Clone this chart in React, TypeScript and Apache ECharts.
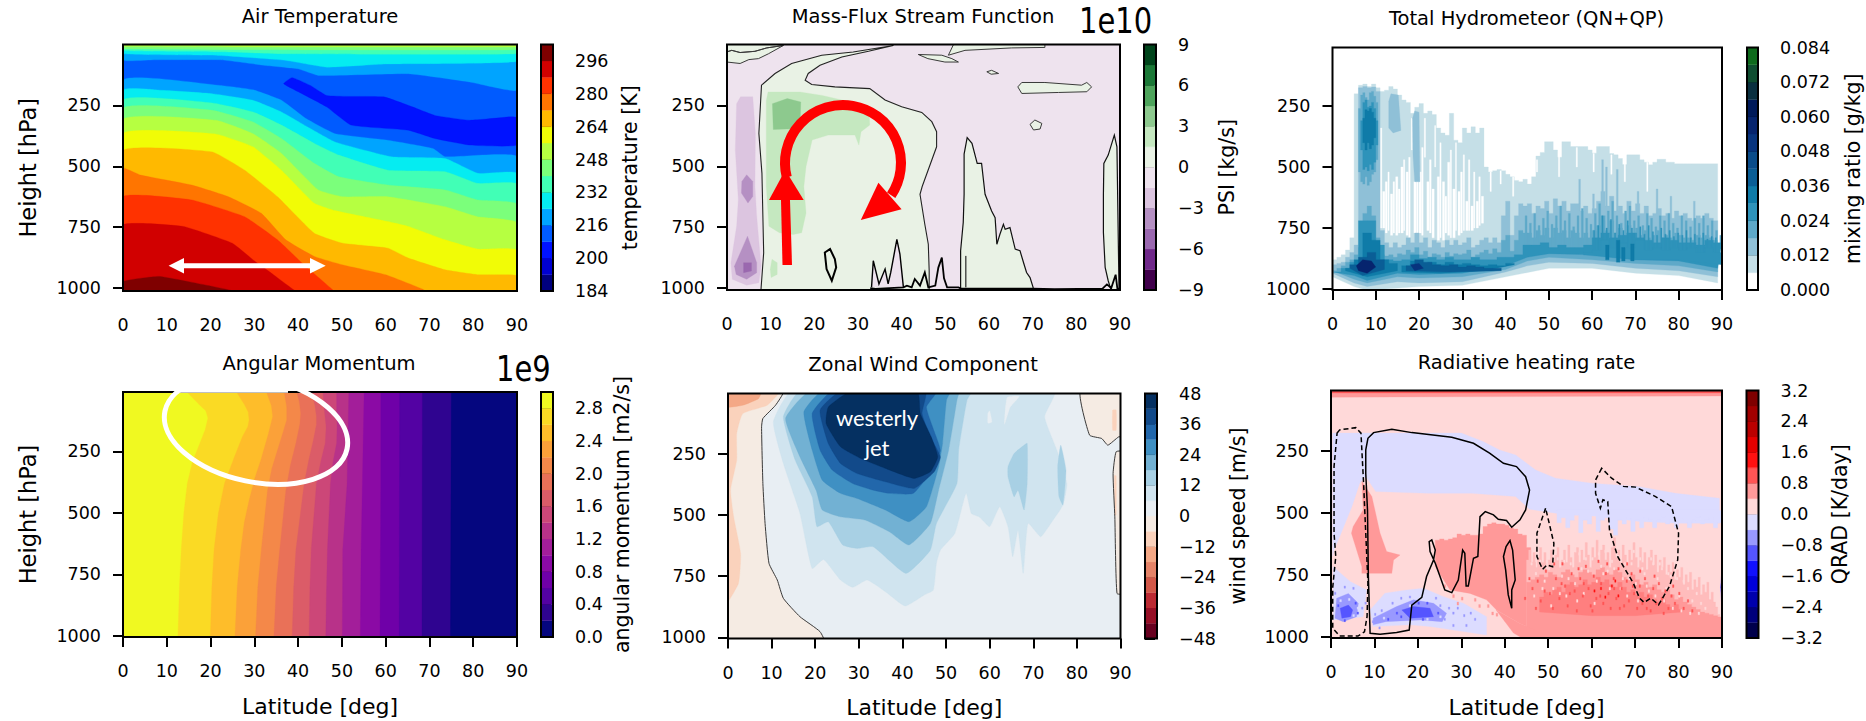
import React, { useEffect, useRef } from "react";
import * as echarts from "echarts";

type Pt = [number, number];
type Shape = { pts: Pt[]; fill?: string; stroke?: string; width?: number; dash?: number[]; closed?: boolean };

const FONT = "DejaVu Sans";
const TICK_P = [250, 500, 750, 1000];

// ---------- colour levels ----------
const tempLevels = [184,192,200,208,216,224,232,240,248,256,264,272,280,288,296,304];
const tempTicks = [184,200,216,232,248,264,280,296];
const jetColors = ["#00007f","#0000d2","#0012ff","#005bff","#00a4ff","#05ecf1","#41ffb6","#7bff7b","#b6ff41","#f1fc06","#ffb900","#ff7500","#ff3200","#d10000","#7f0000"];
const psiLevels = [-9,-7.5,-6,-4.5,-3,-1.5,0,1.5,3,4.5,6,7.5,9];
const psiTicks = [-9,-6,-3,0,3,6,9];
const prgnColors = ["#40004b","#70298a","#9a68af","#b590c3","#dcc5e0","#eee3ee","#e9f2e5","#c5e8c0","#8dc98e","#4ea45c","#1b7837","#00441b"];
const hydroLevels = [0,.006,.012,.018,.024,.03,.036,.042,.048,.054,.06,.066,.072,.078,.084];
const hydroTicks = [0,.012,.024,.036,.048,.06,.072,.084];
const hydroColors = ["#ffffff","#c5dfe7","#8fc0d7","#5ea9c9","#2e93ba","#0f7ba8","#0a5e96","#0a4c8a","#08347e","#06246e","#001a5a","#0a3040","#0f4d30","#0e6a1c","#0a8010"];
const momLevels = [0,.2,.4,.6,.8,1,1.2,1.4,1.6,1.8,2,2.2,2.4,2.6,2.8,3];
const momTicks = [0,.4,.8,1.2,1.6,2,2.4,2.8];
const plasmaColors = ["#05067f","#2f0490","#5302a3","#6f00a8","#8b0aa5","#a31e9a","#b83289","#cc4778","#db5c68","#e97158","#f48849","#fba139","#febd2a","#fada24","#f0f921"];
const windLevels = [-48,-42,-36,-30,-24,-18,-12,-6,0,6,12,18,24,30,36,42,48];
const windTicks = [-48,-36,-24,-12,0,12,24,36,48];
const rdbuColors = ["#67001f","#960f26","#bb2a33","#d25849","#e58368","#f4a886","#fad2bc","#f5ebe3","#e8eef3","#d0e4ef","#a8d0e4","#72b1d3","#3f90c3","#2267ab","#124a8a","#053061"];
const qradLevels = [-3.2,-2.8,-2.4,-2,-1.6,-1.2,-.8,-.4,0,.4,.8,1.2,1.6,2,2.4,2.8,3.2];
const qradTicks = [-3.2,-2.4,-1.6,-.8,0,.8,1.6,2.4,3.2];
const seismicColors = ["#00004c","#00007c","#0000ac","#0000db","#1111ff","#5555ff","#9999ff","#dcdcff","#ffd9d9","#ff9999","#ff5555","#ff1111","#e60000","#bb0000","#a20000","#7f0000"];
const speckleLight = "#ffbcbc";
const speckleWarm = "#ff7f7f";

// ---------- air temperature contours: [latitude, hPa] ----------
const tLow4: Pt[] = [[0,147],[22.2,168],[29.7,186],[36.2,229],[41.8,304],[48.4,366],[60.5,393],[70.8,427],[73.6,461],[90,461]];
const tLow5: Pt[] = [[0,188],[9,188],[20.4,202],[29.7,229],[36.2,277],[42.8,345],[48.4,400],[61.4,461],[73.6,468],[81.1,529],[90,529]];
const tLow6: Pt[] = [[0,229],[20.4,240],[29.7,277],[36.2,331],[43.7,406],[49.3,454],[60.5,516],[73.6,522],[81,570],[90,573]];
const tLow7: Pt[] = [[0,263],[20.4,270],[29.7,318],[36.2,386],[43.7,488],[49.3,543],[60.5,577],[73.6,597],[81,638],[90,655]];
const tLow8: Pt[] = [[0,308],[21.3,311],[29.7,366],[36.2,447],[44.6,597],[50.2,625],[60.5,625],[73.6,666],[81,707],[90,731]];
const tLow9: Pt[] = [[0,366],[21.3,368],[29.7,420],[36.2,516],[43.7,652],[48.4,682],[60.5,727],[65.2,747],[73.6,802],[81,840],[90,843]];
const tLow10: Pt[] = [[0,436],[20.4,441],[27.8,516],[35.3,625],[43.7,775],[50.2,816],[60.5,836],[65.2,877],[73.6,925],[81,945],[90,949]];
const tLow11: Pt[] = [[0,509],[4,536],[15.7,577],[24.1,625],[31.6,693],[37.2,802],[43.7,870],[50,904],[60,945],[68.4,1004],[70.8,1030]];
const tLow12: Pt[] = [[0,625],[15.7,638],[27.8,707],[35.3,802],[40.9,897],[47.9,1007],[49.3,1030]];
const tLow13: Pt[] = [[0,741],[13.8,747],[25,816],[30.2,891],[33.4,932],[39,1007],[41.4,1030]];
const tLow14: Pt[] = [[0,973],[8.2,952],[18.5,986],[25,1011],[26,1030]];
const tUp4: Pt[] = [[0,65],[7.3,63],[22.2,63],[32.5,86],[40,100],[44.6,127],[65.2,120],[79.2,154],[90,188]];
const tUp5: Pt[] = [[0,38],[22,45],[37,65],[46.5,93],[60,80],[90,70]];
const tUp6: Pt[] = [[0,25],[22,30],[37,38],[90,38]];
const tUp7: Pt[] = [[0,18],[90,22]];
const tUp8: Pt[] = [[0,8],[90,10]];
const tCold: Pt[] = [[36.7,161],[38.6,136],[42.8,168],[46.5,209],[51.2,213],[59.6,215],[66.1,256],[71.2,291],[79.2,311],[88.5,297],[90,300],[90,413],[79.2,413],[71.2,386],[65.2,352],[52.1,331],[46.5,256],[40.9,202]];

// ---------- stream function contours ----------
const psiTopLeft: Pt[] = [[0,30],[1.1,24],[3,33],[6.4,28],[9.1,14],[12.9,4],[12.9,-5],[0,-5]];
const psiTopLeft2: Pt[] = [[0,72],[3,78],[5,62],[7.2,58],[9.5,38],[12.9,4],[9.1,14],[6.4,28],[3,33],[1.1,24],[0,30]];
const psiMain: Pt[] = [[38.1,4],[28.9,31],[21.7,44],[14.8,78],[11,119],[7.9,167],[7.3,365],[8,528],[8.4,855],[7.8,1002],[7.8,1040],[46.3,1040],[46.3,929],[46.1,820],[45.3,738],[44.2,615],[44.7,583],[48,420],[48,358],[46.9,317],[44.6,279],[40,256],[36.2,228],[32.7,181],[24.7,174],[19.4,164],[17.9,147],[18.6,119],[21.3,85],[26.3,51],[32.4,28],[38.1,4]];
const psiMountain: Pt[] = [[53.5,1040],[53.5,847],[54.1,731],[54.3,615],[54.3,450],[55,382],[56.1,406],[57.3,488],[58.3,488],[59.1,615],[60.6,684],[61.4,711],[61.8,820],[62.5,779],[63.3,738],[63.7,759],[64.8,752],[66,840],[67.1,847],[67.9,895],[68.6,936],[69.4,957],[70.1,997],[70.4,1040]];
const psiPolar: Pt[] = [[88.5,1040],[87.3,970],[86.6,915],[86.2,772],[86.2,615],[86.3,488],[87.3,454],[88.7,372],[89.3,420],[89.8,1040]];
const psiIsleA: Pt[] = [[43.8,41],[49.2,44],[51.5,58],[53,72],[49.9,72],[46,58]];
const psiIsleB: Pt[] = [[50.7,44],[54.5,24],[65.2,14],[72.8,12],[72.8,-5],[52,-5]];
const psiIsleC: Pt[] = [[59.5,112],[60.6,106],[62.2,119],[60.5,122]];
const psiIsleD: Pt[] = [[66.6,174],[67.5,156],[72.8,156],[81.2,167],[82.4,156],[83.5,174],[82.4,194],[75.9,197],[67.5,201]];
const psiIsleE: Pt[] = [[69.4,328],[70.5,310],[72.1,324],[71.7,347],[70.2,351]];
const psiSpike: Pt[] = [[33.1,997],[33.5,888],[34.8,983],[36.2,922],[36.9,983],[37.5,936],[38.9,800],[39.6,861],[40.4,997]];
const psiLens: Pt[] = [[22.4,854],[23.6,840],[24.7,881],[25,915],[24,970],[22.8,922]];
const psiFloor: Pt[] = [[32.8,1000],[34,1003],[40.4,997],[41.2,990],[42.3,997],[43,963],[44.2,990],[45.3,936],[46.1,997],[47.7,990],[48.4,916],[49.2,875],[49.7,960],[50.4,997],[53,997],[53.6,1002],[56,1002],[70,1002],[75,1004],[86,1002],[87,985],[88,1000],[89,945],[89.4,1002],[90,1002]];
const psiStub: Pt[] = [[54.7,868],[54.7,997]];
const psiPos1A: Pt[] = [[9,230],[9.4,195],[16.7,195],[21.8,209],[28.3,236],[32.6,297],[32.7,331],[30.7,358],[30.2,413],[29.3,372],[23.2,372],[19.5,392],[18.1,501],[17.6,583],[18.1,692],[17.1,773],[15.2,780],[12,773],[9.6,746],[9,583]];
const psiPos1B: Pt[] = [[10.3,882],[11.5,896],[11.5,944],[10.1,957],[9.9,923]];
const psiPos2: Pt[] = [[10.4,243],[13.8,222],[16.9,236],[16.7,345],[10.6,349]];
const psiNeg1: Pt[] = [[2.2,243],[3.1,215],[5.9,215],[6.5,365],[6.4,583],[6.8,705],[7.8,910],[7.3,978],[4.5,988],[1.2,964],[.9,896],[2.2,746],[2.6,637],[1.9,433]];
const psiNeg2A: Pt[] = [[3.4,562],[4.5,535],[5.9,562],[5.9,624],[4.8,651],[3.3,610]];
const psiNeg2B: Pt[] = [[1.7,910],[4.7,787],[6.8,896],[6.8,937],[4.5,964],[2.1,944]];
const psiNeg3: Pt[] = [[3.8,896],[5.6,896],[5.6,930],[3.8,937]];

// ---------- hydrometeor: upper edge of each band, one value per degree of latitude ----------
const hydroTopA = [880,870,860,840,790,200,165,160,170,160,175,190,185,170,180,205,225,235,280,255,240,280,270,285,340,360,370,280,390,400,340,360,335,360,340,500,520,515,510,515,530,540,555,560,550,570,540,455,440,396,396,430,460,396,396,416,416,416,416,430,443,416,416,416,445,450,465,490,450,450,450,470,480,491,480,468,468,480,480,487,487,487,487,487,487,487,487,487,487];
const hydroBotA: Pt[] = [[0,950],[5,990],[8,1005],[20,990],[30,985],[40,950],[50,915],[60,915],[70,935],[80,945],[89,975]];
const holeLat = [11,11.6,12.2,12.8,13.4,14,14.6,15.2,15.8,16.4,17,17.6,18.2,18.8,19.4,20,20.6,21.2,21.8,22.4,23,23.6,24.2,24.8,25.4,26,26.6,27.2,27.8,28.4,29,29.6,30.2,30.8,31.4,32,32.6,33.2,33.8,34.4];
const holeTop = [340,600,560,520,610,560,540,590,500,470,520,460,300,560,480,520,420,300,560,470,590,330,540,400,560,620,480,430,590,400,600,520,450,640,470,660,520,640,540,620];
const holeBot = [750,750,770,760,780,770,780,770,770,760,780,790,430,770,780,770,780,460,760,770,790,500,800,790,800,770,780,790,790,760,780,770,760,760,760,760,750,750,740,730];
const holeWidth = [.4,.5,.45,.3,.5,.35,.5,.4,.55,.3,.5,.35,.25,.5,.4,.55,.35,.3,.5,.4,.5,.25,.55,.3,.5,.4,.5,.3,.55,.25,.5,.4,.3,.5,.35,.55,.3,.5,.35,.5];
const slitLat = [36.4,38.7,41.6,47.1,52.2,56.3,60.2,64.3,67.4,72.6];
const slitTop = [520,515,540,470,440,420,445,450,480,480];
const slitBot = [600,570,620,520,540,500,520,530,560,600];
const hydroTopB = [900,895,890,870,850,820,175,170,175,172,190,760,810,830,810,830,820,790,810,770,810,790,830,800,810,830,800,820,800,820,810,790,830,820,800,790,810,790,810,700,640,780,700,650,660,650,690,660,670,640,690,630,660,640,680,650,650,680,660,690,670,640,600,660,620,680,660,690,640,680,650,690,660,700,690,670,700,690,710,680,700,690,710,720,700,710,690,710,720];
const hydroBotB: Pt[] = [[0,935],[5,975],[8,990],[15,970],[20,975],[30,970],[40,930],[45,905],[50,890],[60,895],[70,915],[80,925],[89,950]];
const hydroTowerB2: Pt[] = [[13,230],[13.5,200],[15.2,205],[15.8,350],[14,360],[13,340]];
const hydroTowerB3: Pt[] = [[18.5,300],[19,270],[20,275],[20.2,560],[19,560],[18.6,450]];
const streakBLat = [56.9,60.1,62.2,63.1,65.6,70.4,74.8,78,83.4];
const streakBTop = [550,610,470,500,510,600,590,620,640];
const hydroTopC = [925,915,905,890,880,860,830,690,660,700,790,860,865,860,870,855,860,840,850,830,860,845,870,855,860,870,850,865,855,860,855,840,870,860,850,840,855,835,850,800,780,845,800,760,770,770,790,760,780,750,790,750,770,760,790,760,770,790,770,790,760,740,700,760,720,770,750,780,740,770,750,780,760,790,780,760,790,780,790,770,780,790,790,800,780,790,780,790,800];
const hydroBotC: Pt[] = [[0,925],[5,960],[8,975],[15,950],[20,955],[30,950],[40,920],[45,885],[50,870],[60,880],[70,895],[80,905],[89,930]];
const streakCTop = [700,730,690,740,710,680,735,700,660,720,690,745,700,670,710,735,690,650,720,680,640,700,730,680,660,720,700,740,690,710,745,700,720,690,730,750,700,720,745,710,730,700,740,720,760,780];
const towerCTop = [260,205,195,215,225,195,190,210,235];
const towerCBot = [520,560,570,540,575,560,530,520,470];
const hydroTopD = [930,915,890,720,720,820,880,885,880,860,875,870,880,870,880,880,870,880,880,870,870,860,820,820,810,830,820,830,830,820,790,770,790,780,770,790,800,810,790,800,810,810,820,800,810];
const hydroBotD: Pt[] = [[0,930],[5,945],[8,965],[15,935],[20,940],[30,935],[40,905],[45,870],[50,855],[60,860],[70,880],[80,885],[89,915]];
const streakDTop = [760,740,700,750,715,770,735,760,720,750,770,745,775,740,765,780,750,775,760,785,770,780,760,790,775,790,770,795,785,790];
const towerDTop = [310,235,225,255,250,235,260,310];
const towerDBot = [430,510,500,515,490,510,480,410];
const hydroTopE1 = [915,880,770,800,880,895];
const hydroBotE1: Pt[] = [[3,925],[8,950],[15,925]];
const hydroTopE2 = [905,885,895,890,900,890,900,895,900,905,900,905,895];
const hydroBotE2: Pt[] = [[16,930],[25,935],[35,925],[42,900]];
const hydroTopE3 = [850,840,800,830,810,830,800,840,830,840,830,840,830,850,830,850];
const hydroBotE3: Pt[] = [[58,860],[70,880],[80,880],[90,900]];
const towerETop = [300,265,270,260,275,300];
const towerEBot = [400,430,400,425,410,380];
const hydroTopF1 = [900,870,850,880];
const hydroBotF1: Pt[] = [[4,915],[7,945],[12,920]];
const hydroTopF2 = [905,880,890,900,905,900,910,905,910,915,915];
const hydroBotF2: Pt[] = [[17,925],[27,930],[39,925]];
const hydroFLat = [63.1,65.6,66.8,68.9];
const hydroFTop = [820,800,830,815];
const hydroFBot = [880,890,885,885];
const hydroCoreA: Pt[] = [[5.5,905],[7,880],[9,885],[10,910],[8,935],[6,925]];
const hydroCoreB: Pt[] = [[18,900],[20,895],[21,915],[19,925]];

// ---------- angular momentum contours ----------
const momEdges: Pt[][] = [
  [[12.5,1030],[12.9,800],[13.3,650],[13.9,500],[14.7,380],[15.9,290],[17.5,220],[18.8,160],[19.4,115],[18.9,85],[17.5,62],[15.5,25],[13.8,-5]],
  [[19.9,1030],[20.3,800],[20.8,650],[21.8,500],[23.2,380],[25.5,270],[27.3,190],[28.5,150],[28.8,123],[28.6,90],[27.8,62],[26.5,25],[25.5,-5]],
  [[25.5,1030],[26.1,800],[26.9,650],[27.7,540],[28.8,450],[30.1,360],[31.5,285],[33.2,180],[34.2,109],[33.9,65],[32.5,-5]],
  [[30.2,1030],[30.8,800],[31.6,650],[33,410],[34,320],[35.3,245],[36.6,170],[37.4,123],[37.4,70],[36.7,-5]],
  [[34.4,1030],[35,800],[35.8,650],[37.2,410],[38.2,310],[39.5,217],[40.4,140],[40.6,96],[40.3,50],[39.5,-5]],
  [[38.6,1030],[39,800],[39.5,650],[41.4,380],[42.5,280],[43.5,204],[44.2,140],[44.2,109],[43.8,60],[42.8,-5]],
  [[42.5,1030],[42.7,800],[43,650],[44.2,380],[45.2,290],[46.2,217],[46.4,150],[46,82],[45.6,-5]],
  [[46.3,1030],[46.5,800],[46.7,650],[47.4,380],[48,290],[48.8,217],[48.9,150],[48.8,82],[48.8,-5]],
  [[50.1,1030],[50.2,650],[51.2,380],[51.6,-5]],
  [[54.2,1030],[54.4,650],[55.1,-5]],
  [[58.7,1030],[58.9,380],[58.9,-5]],
  [[63.1,1030],[63.2,-5]],
  [[68.3,1030],[68.4,-5]],
  [[74.8,1030],[75,-5]],
];

// ---------- zonal wind contours ----------
const uWest: Pt[] = [[12.7,-5],[10.9,52],[8,106],[7.7,140],[8,372],[8.5,535],[9.4,698],[11.3,766],[12.7,841],[16.5,916],[21.1,977],[22.3,1030],[-1,1030],[-1,-5]];
const uNorth: Pt[] = [[80.8,-5],[82.9,174],[85.7,188],[87.1,215],[89.6,181],[91,181],[91,-5]];
const uStrip: Pt[] = [[89,242],[88.3,331],[88.7,508],[89.2,821],[91,821],[91,242]];
const uStripIn: Pt[] = [[88.6,340],[89,340],[89,500],[88.7,500]];
const uDotN: Pt[] = [[88.2,72],[89,72],[89,154],[88.2,154]];
const uWestDeep: Pt[] = [[-1,-5],[7.6,-5],[7,25],[3.4,52],[-1,60]];
const uWestMid: Pt[] = [[-1,-5],[11.8,-5],[9,52],[3.4,86],[2,167],[2,276],[.6,399],[1.3,508],[2.9,657],[2.4,780],[-1,875]];
const uBand1: Pt[] = [[14.6,-5],[10.4,120],[12.7,290],[16.5,494],[19.3,719],[21.9,682],[25.8,766],[28.6,796],[31.9,766],[36.1,814],[40.6,872],[45,827],[47.1,807],[47.8,698],[48.7,644],[52,576],[54.6,412],[55.8,494],[57.6,508],[60,548],[62.3,467],[64.2,548],[65.3,671],[66.5,562],[67.7,739],[68.8,535],[71.7,589],[74,535],[76.8,460],[77.7,372],[75.4,235],[72.6,99],[74.9,-5]];
const uGapA: Pt[] = [[66.8,15],[64,20],[63.4,130],[64.7,60]];
const uGapB: Pt[] = [[60,75],[60.5,120],[59.6,125],[59.6,85]];
const uBand2: Pt[] = [[16.5,-5],[12.7,99],[15.4,276],[19.3,426],[20.4,548],[23,528],[26.3,623],[29.6,637],[33.3,630],[40.8,739],[46.4,644],[47.8,535],[52.5,372],[52.9,235],[54.8,31],[55.8,-5]];
const uBlobA: Pt[] = [[64.2,303],[65.6,249],[67.4,222],[68.6,208],[68.6,372],[67.9,480],[66.5,399],[65.6,426],[64.2,344]];
const uBlobB: Pt[] = [[76.3,215],[77.5,317],[76.8,460],[75.9,426],[75.6,303]];
const uBand3: Pt[] = [[18.8,-5],[13.2,106],[16.5,263],[20.2,399],[21.6,480],[25.8,508],[31.4,521],[37,569],[41.5,623],[46.4,535],[48.3,399],[50.6,235],[52.5,31],[52.9,-5]];
const uBand4: Pt[] = [[21.6,-5],[17.4,79],[19.3,235],[21.6,358],[25.8,412],[29.6,433],[36.1,480],[41.5,528],[45.5,467],[48.3,303],[49.2,208],[50.1,31],[50.9,-5]];
const uBand5: Pt[] = [[23.9,-5],[19.3,86],[21.1,235],[23.9,317],[28.6,372],[33.3,399],[37,412],[42.5,412],[47.3,303],[48.7,235],[46.9,140],[45.5,59],[47.8,-5]];
const uBand6: Pt[] = [[25.8,-5],[21.1,72],[23,208],[25.8,290],[29.6,331],[36.1,365],[42.7,392],[47.3,324],[48.7,263],[46.4,181],[44.5,86],[45.3,-5]];
const uBand7: Pt[] = [[28.2,-5],[23,59],[22.5,127],[25.8,222],[30.5,270],[36.1,310],[42.7,351],[46.4,324],[48.1,263],[46.6,181],[44.1,86],[43.4,-5]];

// ---------- radiative heating ----------
const qCool: Pt[] = [[.4,178],[6.6,178],[30,178],[35,212],[38.8,246],[42.5,266],[47.1,327],[51.7,360],[60,380],[71,394],[79.3,421],[89.4,441],[89.4,542],[80.2,542],[71,535],[61.8,515],[51.7,501],[45.7,485],[42.5,434],[32.4,421],[22.3,421],[10.3,414],[8,353],[6.6,380],[4.8,475],[2,596],[.7,650],[.4,676]];
const qCoolStreak = [540,520,560,530,510,580,530,545,510,575,530,520,565,590,530,545,520,575,530,560,520,530,560,530,515,545,530,560,525,540,560,530,515,545,530,520,560,540];
const qCoolLowA: Pt[] = [[.5,717],[4.4,777],[8.2,811],[7.4,919],[.5,932]];
const qCoolLowB: Pt[] = [[9,892],[12.4,824],[17.4,811],[21.3,804],[25.9,838],[30.5,865],[35.8,919],[35.8,993],[22.8,959],[18.2,952],[9.7,959]];
const qMidA: Pt[] = [[1.3,845],[4,825],[6.3,865],[5.9,919],[2.8,939],[.9,925]];
const qMidB: Pt[] = [[9.7,925],[15.1,878],[19,851],[23.6,865],[26.6,905],[25.6,939],[20.5,932],[12.6,939],[9.7,952]];
const qCoreA: Pt[] = [[2.1,885],[4,872],[5,892],[4.5,919],[2.5,925]];
const qCoreB: Pt[] = [[16.3,892],[19,878],[22.8,885],[23.6,919],[18.2,925]];
const qEdge: Pt[] = [[89.7,800],[90,720],[90,900]];
const qBlueLat = [7,7.8,.8,5,3,10,11.5,13,14,16,18,24,25,27,28,29,30.5,32,33,26,28,31,9.5,11];
const qBlueP = [880,860,820,800,795,905,890,905,860,840,835,840,870,880,900,880,910,900,925,925,950,950,935,960];
const qDeepLat = [1.5,5.5,6,3,15,16,20,22,24.5,21,13];
const qDeepP = [870,860,900,930,900,915,860,860,900,925,925];
const qPaleLat = [4,2,6,5,12,18,25,22];
const qPaleP = [845,850,880,910,920,870,915,925];
const qWarmWedge: Pt[] = [[7.1,373],[7.4,488],[5.1,555],[4.7,582],[7.1,717],[7.1,744],[14,744],[14.4,690],[15.9,670],[12.8,656],[11.3,582],[10.1,488],[9.4,434]];
const qWarmTop = [610,605,610,605,600,585,590,585,590,590,585,555,545,540,545,545,550,560,565,585,590,640,700];
const qWarmEdge: Pt[] = [[24,717],[27.4,811],[32,825],[35.8,851],[38.1,892],[43.5,946],[47,973]];
const qWarmFoot: Pt[] = [[38,892],[43.5,946],[47,973],[47,1030],[45,1030],[44,1005],[42,985]];
const qWarmDotLat = [28,30,33,36,38,40,42,44,34,37,26,29];
const qWarmDotP = [830,840,845,870,905,925,950,975,870,900,790,860];
const qLowTop = [690,650,700,660,720,680,640,700,660,730,690,650,710,670,640,720,690,650,700,630,680,720,660,640,700,650,690,620,670,720,640,680,610,700,650,630,690,660,720,640,600,680,650,700,630,670,710,650,690,620,680,720,640,700,660,730,680,650,710,670,740,690,720,680,750,710,740,700,770,730,760,720,790,750,780,740,810,770,800,760,830,790,820,780,850,820,860,880,910,950];
const qLowMid = [780,770,760,750,760,740,750,760,740,730,750,760,740,730,740,750,730,720,740,750,730,740,760,770,750,770,790,780,800,790,810,820,810,830,850,840,860,870,880,890,900,905,910,915,920];
const qHotZone = [840,820,830,810,800,820,790,780,800,790,770,790,780,760,780,770,790,800,780,800,820,810,830,820,840,830,850,860,850,870,880,870,890];
const qHotZoneEdge: Pt[] = [[48,900],[60,915],[70,915],[81,900]];
const qLowFloor: Pt[] = [[45,1030],[90,1030]];
const qHotLat = [46.2,47.4,48.1,49.3,50.2,50.9,51.6,52.4,53.1,53.7,54.3,55.2,55.9,56.4,57.2,57.8,58.5,59.1,59.6,60.3,60.9,61.4,62,62.5,63.1,63.7,64.2,64.9,65.5,66,66.7,67.3,67.9,68.4,69,69.6,70.3,70.9,71.5,72.1,72.8,73.4,74,74.7,75.3,76,76.8,77.5,78.2,79,80,81,82,83,47,49,51.2,52.9,54.8,56.8,58,60,61.8,63.4,65,66.3,68,69.3,71,72.5,74.3,76.4,78.6,44.5,45.5];
const qHotP = [800,770,850,730,820,880,760,840,700,790,870,740,810,890,760,830,710,800,870,750,840,690,780,860,740,820,880,760,840,720,800,870,770,850,740,820,880,790,860,760,830,890,800,860,780,840,810,880,830,860,820,880,850,890,880,810,700,780,820,720,780,890,830,700,800,880,700,790,730,880,750,900,790,840,760];
const qCoreLat = [62,63,64.5,60.5,66,65.3];
const qCoreP = [800,835,790,810,830,770];
const qPinkLat = [46,47,48,49,50,51,52,53,54,55,56,57,58,59,60,61,62,63,64,65,66,67,68,69,70,71,72,73,74,75,76,77,78,79,80,81,82,83,84,85,86,46.6,48.5,50.5,52.5,54.5,56.5,58.5,60.5,62.5,64.5,66.5,68.5,70.5,72.5,74.5,76.5,78.5,80.5,82.5,84.5,47.5,49.5,51.5,53.5,55.5,57.5,59.5,61.5,63.5,65.5,67.5,69.5,71.5,73.5,75.5,77.5,79.5,81.5];
const qPinkP = [700,740,690,770,720,800,680,750,830,700,780,660,820,730,680,770,710,650,800,720,670,760,830,700,780,680,740,810,700,760,720,800,750,700,830,770,800,850,820,860,880,830,800,870,820,760,850,680,860,740,690,800,760,850,790,830,850,880,890,900,900,650,690,650,690,640,720,640,660,730,640,700,650,720,680,700,740,760,720];
const qSolidA: Pt[] = [[8,246],[8.5,199],[9.8,176],[14,162],[18.6,176],[27.8,195],[32.8,219],[36.5,259],[39.7,300],[42.7,313],[44.8,354],[45.7,408],[44.8,488],[43.5,528],[41.6,558],[40.4,531],[38.5,526],[37.4,508],[35.5,495],[34.3,515],[33.8,676],[32.8,683],[31.6,795],[31.1,795],[30.8,663],[30.3,650],[29.3,771],[27.8,822],[26.2,811],[25.1,757],[24,703],[22.8,656],[22.6,616],[23.2,609],[24,650],[23.6,690],[22,757],[20.9,841],[18.6,872],[18,973],[15.1,983],[11.3,990],[9,986],[8.6,757],[8.4,488],[8,340]];
const qSolidB: Pt[] = [[39.7,676],[40.3,636],[41.2,612],[41.8,650],[42.4,771],[41.6,811],[41.6,885],[40.8,831],[40.2,730]];
const qDashA: Pt[] = [[1.4,178],[2,165],[5.7,156],[6.9,178],[7.5,380],[8.5,784],[8.3,919],[7.7,980],[6.2,997],[2,997],[.4,966],[.4,800],[1.1,676],[.7,582],[.7,313]];
const qDashB: Pt[] = [[49.4,481],[47.4,582],[47.4,676],[48.7,728],[49.7,710],[51,717],[51.3,623],[50.4,555]];
const qDashC: Pt[] = [[62.3,320],[60.9,367],[60.9,421],[62,481],[62.6,447],[63.7,454],[64.1,569],[66,677],[69.6,784],[71,844],[72.1,862],[73.6,844],[75.4,871],[77.9,797],[79.8,690],[80,582],[78.4,475],[74.7,434],[70.1,396],[67.3,393],[64.6,360]];

// ---------- polygon helpers ----------
const BASE: Pt[] = [[-1,-5],[91,-5],[91,1040],[-1,1040]];
const below = (b: Pt[], fill: string): Shape => ({ pts: [...b, [91,1040],[-1,1040]], fill });
const above = (b: Pt[], fill: string): Shape => ({ pts: [...b, [91,-5],[-1,-5]], fill });
const rightOf = (b: Pt[], fill: string): Shape => ({ pts: [...b, [92,-5],[92,1040]], fill });
const stairs = (lat0: number, w: number, v: number[]): Pt[] => v.flatMap((p, i): Pt[] => [[lat0 + i * w, p], [lat0 + (i + 1) * w, p]]);
const stairBand = (lat0: number, w: number, v: number[], edge: Pt[], fill: string): Shape => ({ pts: [...stairs(lat0, w, v), ...[...edge].reverse()], fill });
const stairTower = (lat0: number, w: number, top: number[], bot: number[], fill: string): Shape => stairBand(lat0, w, top, stairs(lat0, w, bot), fill);
const cell = (lat: number, w: number, t: number, b: number, fill: string): Shape => ({ pts: [[lat,t],[lat+w,t],[lat+w,b],[lat,b]], fill });
const dots = (lats: number[], ps: number[], w: number, h: number, fill: string): Shape[] => lats.map((lat, i) => cell(lat, w, ps[i], ps[i] + h, fill));

const [J, P, H, M, U, Q] = [jetColors, prgnColors, hydroColors, plasmaColors, rdbuColors, seismicColors];

const tempShapes: Shape[] = [
  { pts: BASE, fill: J[3] },
  below(tLow4, J[4]), below(tLow5, J[5]), below(tLow6, J[6]), below(tLow7, J[7]), below(tLow8, J[8]), below(tLow9, J[9]),
  below(tLow10, J[10]), below(tLow11, J[11]), below(tLow12, J[12]), below(tLow13, J[13]), below(tLow14, J[14]),
  above(tUp4, J[4]), above(tUp5, J[5]), above(tUp6, J[6]), above(tUp7, J[7]), above(tUp8, J[8]),
  { pts: tCold, fill: J[2] },
];

const line = "#3a3a3a";
const psiShapes: Shape[] = [
  { pts: BASE, fill: P[5] },
  { pts: psiTopLeft2, fill: P[6] }, { pts: psiTopLeft, fill: P[6] },
  { pts: psiMain, fill: P[6] }, { pts: psiMountain, fill: P[6] }, { pts: psiPolar, fill: P[6] },
  { pts: psiIsleA, fill: P[6] }, { pts: psiIsleB, fill: P[6] }, { pts: psiIsleC, fill: P[6] }, { pts: psiIsleD, fill: P[6] }, { pts: psiIsleE, fill: P[6] },
  { pts: psiPos1A, fill: P[7] }, { pts: psiPos1B, fill: P[7] }, { pts: psiPos2, fill: P[8] },
  { pts: psiNeg1, fill: P[4] }, { pts: psiNeg2A, fill: P[3] }, { pts: psiNeg2B, fill: P[3] }, { pts: psiNeg3, fill: P[2] },
  { pts: psiSpike, fill: P[5] },
  ...[psiTopLeft, psiTopLeft2, psiIsleA, psiIsleB, psiIsleC, psiIsleD, psiIsleE].map((pts): Shape => ({ pts, stroke: line, width: 1, closed: true })),
  { pts: psiMain, stroke: "#222", width: 1.1, closed: true }, { pts: psiMountain, stroke: "#111", width: 1.2, closed: true }, { pts: psiPolar, stroke: "#111", width: 1.2, closed: true },
  { pts: psiSpike, stroke: "#000", width: 1.4 },
  { pts: psiLens, stroke: "#000", width: 2, closed: true },
  { pts: psiFloor, stroke: "#000", width: 1.8 },
  { pts: psiStub, stroke: "#000", width: 1 },
];

const hydroShapes: Shape[] = [
  stairBand(0, 1, hydroTopA, hydroBotA, H[1]),
  ...holeLat.map((lat, i) => cell(lat, holeWidth[i], holeTop[i], holeBot[i], H[0])),
  ...slitLat.map((lat, i) => cell(lat, .3, slitTop[i], slitBot[i], H[0])),
  ...streakBLat.map((lat, i) => cell(lat, .4, streakBTop[i], 720, H[2])),
  stairBand(0, 1, hydroTopB, hydroBotB, H[2]),
  { pts: hydroTowerB2, fill: H[2] }, { pts: hydroTowerB3, fill: H[2] },
  stairBand(0, 1, hydroTopC, hydroBotC, H[3]), stairTower(6, .5, towerCTop, towerCBot, H[3]),
  ...streakCTop.map((t, i) => cell(44.5 + i, .45, t, 830, H[3])),
  stairBand(0, 2, hydroTopD, hydroBotD, H[4]), stairTower(6.5, .5, towerDTop, towerDBot, H[4]),
  ...streakDTop.map((t, i) => cell(60.3 + i * .97, .3, t, 860, H[4])),
  stairBand(3, 2, hydroTopE1, hydroBotE1, H[5]), stairBand(16, 2, hydroTopE2, hydroBotE2, H[5]), stairBand(58, 2, hydroTopE3, hydroBotE3, H[4]), stairTower(7, .5, towerETop, towerEBot, H[5]),
  ...hydroFLat.map((lat, i) => cell(lat, .8, hydroFTop[i], hydroFBot[i], H[5])),
  stairBand(4, 2, hydroTopF1, hydroBotF1, H[6]), stairBand(17, 2, hydroTopF2, hydroBotF2, H[6]),
  { pts: hydroCoreA, fill: H[9] }, { pts: hydroCoreB, fill: H[8] },
];

const momShapes: Shape[] = [
  { pts: BASE, fill: M[14] },
  ...momEdges.map((b, i) => rightOf(b, M[13 - i])),
];

const uShapes: Shape[] = [
  { pts: BASE, fill: U[8] },
  { pts: uWest, fill: U[7] }, { pts: uNorth, fill: U[7] }, { pts: uStrip, fill: U[7] },
  { pts: uWestMid, fill: U[6] }, { pts: uWestDeep, fill: U[5] }, { pts: uStripIn, fill: U[6] }, { pts: uDotN, fill: U[6] },
  { pts: uBand1, fill: U[9] }, { pts: uGapA, fill: U[8] }, { pts: uGapB, fill: U[8] },
  { pts: uBand2, fill: U[10] }, { pts: uBlobA, fill: U[10] }, { pts: uBlobB, fill: U[10] },
  { pts: uBand3, fill: U[11] }, { pts: uBand4, fill: U[12] }, { pts: uBand5, fill: U[13] }, { pts: uBand6, fill: U[14] }, { pts: uBand7, fill: U[15] },
  { pts: uWest, stroke: line, width: 1, closed: true }, { pts: uNorth, stroke: line, width: 1, closed: true }, { pts: uStrip, stroke: line, width: 1, closed: true },
];

const qShapes: Shape[] = [
  { pts: BASE, fill: Q[8] },
  { pts: [[-1,33],[91,28],[91,-5],[-1,-5]], fill: Q[9] },
  { pts: [[-1,16],[91,16],[91,-5],[-1,-5]], fill: Q[10] },
  { pts: qCool, fill: Q[7] },
  stairBand(52, 1, qCoolStreak, [[52,490],[90,490]], Q[7]),
  { pts: qCoolLowA, fill: Q[7] }, { pts: qCoolLowB, fill: Q[7] },
  { pts: qMidA, fill: Q[6] }, { pts: qMidB, fill: Q[6] }, { pts: qCoreA, fill: Q[5] }, { pts: qCoreB, fill: Q[5] },
  ...dots(qBlueLat, qBlueP, .35, 9, Q[6]), ...dots(qDeepLat, qDeepP, .35, 9, Q[5]), ...dots(qPaleLat, qPaleP, .4, 9, Q[7]),
  { pts: qEdge, fill: Q[4] },
  { pts: qWarmWedge, fill: Q[9] },
  stairBand(24, 1, qWarmTop, qWarmEdge, Q[9]),
  ...dots(qWarmDotLat, qWarmDotP, .4, 12, Q[9]),
  stairBand(45, .5, qLowTop, qLowFloor, speckleLight),
  stairBand(45, 1, qLowMid, qLowFloor, Q[9]),
  { pts: qWarmFoot, fill: Q[9] },
  stairBand(48, 1, qHotZone, qHotZoneEdge, speckleWarm),
  ...dots(qPinkLat, qPinkP, .35, 11, Q[8]),
  ...dots(qHotLat, qHotP, .35, 11, Q[10]),
  ...dots(qCoreLat, qCoreP, .3, 10, Q[11]),
  { pts: qSolidA, stroke: "#000", width: 1.5, closed: true }, { pts: qSolidB, stroke: "#000", width: 1.5, closed: true },
  { pts: qDashA, stroke: "#000", width: 1.5, dash: [5, 3], closed: true }, { pts: qDashB, stroke: "#000", width: 1.5, dash: [5, 3], closed: true }, { pts: qDashC, stroke: "#000", width: 1.5, dash: [5, 3], closed: true },
];

// ---------- layout ----------
type Panel = {
  title: string; titleX: number; titleY: number; shapes: Shape[]; smooth: number;
  g: { left: number; top: number; right: number; bottom: number }; pMin: number; pMax: number;
  cb: { left: number; right: number; top: number; bottom: number; levels: number[]; colors: string[]; ticks: number[]; dec: number; name: string; gap: number };
  yName?: boolean; xName?: boolean;
};

const panels: Panel[] = [
  { title: "Air Temperature", titleX: 320, titleY: 16, shapes: tempShapes, smooth: .12, g: { left: 123, right: 517, top: 44.5, bottom: 291 }, pMin: 0, pMax: 1012, yName: true,
    cb: { left: 541, right: 553, top: 44.5, bottom: 291, levels: tempLevels, colors: jetColors, ticks: tempTicks, dec: 0, name: "temperature [K]", gap: 66 } },
  { title: "Mass-Flux Stream Function", titleX: 923, titleY: 16.5, shapes: psiShapes, smooth: 0, g: { left: 727, right: 1120, top: 44.5, bottom: 290 }, pMin: 0, pMax: 1008,
    cb: { left: 1144, right: 1156, top: 44.5, bottom: 290, levels: psiLevels, colors: prgnColors, ticks: psiTicks, dec: 0, name: "PSI [kg/s]", gap: 60 } },
  { title: "Total Hydrometeor (QN+QP)", titleX: 1526.5, titleY: 18.5, shapes: hydroShapes, smooth: 0, g: { left: 1332.5, right: 1722, top: 47.5, bottom: 290 }, pMin: 10, pMax: 1004,
    cb: { left: 1747, right: 1758, top: 47.5, bottom: 290, levels: hydroLevels, colors: hydroColors, ticks: hydroTicks, dec: 3, name: "mixing ratio [g/kg]", gap: 84 } },
  { title: "Angular Momentum", titleX: 319, titleY: 363, shapes: momShapes, smooth: 0, g: { left: 123, right: 517, top: 392, bottom: 637 }, pMin: 9, pMax: 1004, yName: true, xName: true,
    cb: { left: 541, right: 553, top: 392, bottom: 637, levels: momLevels, colors: plasmaColors, ticks: momTicks, dec: 1, name: "angular momentum [m2/s]", gap: 58 } },
  { title: "Zonal Wind Component", titleX: 923, titleY: 364.5, shapes: uShapes, smooth: .15, g: { left: 728, right: 1120.5, top: 393.5, bottom: 638.5 }, pMin: 4, pMax: 1005, xName: true,
    cb: { left: 1145, right: 1157, top: 393.5, bottom: 638.5, levels: windLevels, colors: rdbuColors, ticks: windTicks, dec: 0, name: "wind speed [m/s]", gap: 70 } },
  { title: "Radiative heating rate", titleX: 1526.5, titleY: 362.5, shapes: qShapes, smooth: 0, g: { left: 1331, right: 1722, top: 390.5, bottom: 638 }, pMin: 6, pMax: 1005, xName: true,
    cb: { left: 1746.5, right: 1758.5, top: 390.5, bottom: 638, levels: qradLevels, colors: seismicColors, ticks: qradTicks, dec: 1, name: "QRAD [K/day]", gap: 71 } },
];

function renderShapes(shapes: Shape[], smooth: number) {
  return (params: any, api: any) => {
    const s = shapes[params.dataIndex];
    const points = s.pts.map((p) => api.coord(p));
    if (s.fill) return { type: "polygon", shape: { points, smooth }, style: { fill: s.fill, stroke: s.fill, lineWidth: 0.3 } };
    return {
      type: s.closed ? "polygon" : "polyline", shape: { points, smooth },
      style: { fill: "none", stroke: s.stroke, lineWidth: s.width, lineDash: s.dash },
    };
  };
}

function buildOption() {
  const grid: any[] = [], xAxis: any[] = [], yAxis: any[] = [], series: any[] = [], title: any[] = [];
  const tickStyle = { show: true, length: 10, lineStyle: { color: "#000", width: 2 } };
  const labelStyle = { color: "#000", fontFamily: FONT, fontSize: 17.5 };
  const fmt = (dec: number) => (v: number) => (v < 0 ? "\u2212" : "") + Math.abs(v).toFixed(dec);

  panels.forEach((p) => {
    const gi = grid.length;
    grid.push({ show: true, z: 10, left: p.g.left, top: p.g.top, width: p.g.right - p.g.left, height: p.g.bottom - p.g.top, borderColor: "#000", borderWidth: 2, backgroundColor: "transparent" });
    xAxis.push({
      gridIndex: gi, type: "value", min: 0, max: 90, interval: 10, splitLine: { show: false }, axisLine: { show: false }, axisTick: tickStyle,
      axisLabel: { ...labelStyle, margin: 25 },
      ...(p.xName ? { name: "Latitude [deg]", nameLocation: "middle", nameGap: 58, nameTextStyle: { color: "#000", fontFamily: FONT, fontSize: 22 } } : {}),
    });
    yAxis.push({
      gridIndex: gi, type: "value", inverse: true, min: p.pMin, max: p.pMax, splitLine: { show: false }, axisLine: { show: false },
      axisTick: { ...tickStyle, customValues: TICK_P }, axisLabel: { ...labelStyle, margin: 22, customValues: TICK_P, formatter: fmt(0) },
      ...(p.yName ? { name: "Height [hPa]", nameLocation: "middle", nameGap: 84, nameTextStyle: { color: "#000", fontFamily: FONT, fontSize: 22.5 } } : {}),
    });
    series.push({
      type: "custom", xAxisIndex: gi, yAxisIndex: gi, coordinateSystem: "cartesian2d", clip: true, animation: false, silent: true,
      data: p.shapes.map((s) => [s.pts[0][0], s.pts[0][1]]), encode: { x: 0, y: 1 }, renderItem: renderShapes(p.shapes, p.smooth),
    });
    title.push({ text: p.title, left: p.titleX, top: p.titleY, padding: 0, textAlign: "center", textVerticalAlign: "middle", textStyle: { color: "#000", fontFamily: FONT, fontSize: 19.5, fontWeight: "normal" } });

    const c = p.cb, ci = grid.length;
    const barShapes: Shape[] = c.colors.map((fill, i) => ({ pts: [[0, c.levels[i]], [1, c.levels[i]], [1, c.levels[i + 1]], [0, c.levels[i + 1]]], fill }));
    grid.push({ show: true, z: 10, left: c.left, top: c.top, width: c.right - c.left, height: c.bottom - c.top, borderColor: "#000", borderWidth: 2, backgroundColor: "transparent" });
    xAxis.push({ gridIndex: ci, type: "value", min: 0, max: 1, show: false });
    yAxis.push({
      gridIndex: ci, type: "value", position: "right", min: c.levels[0], max: c.levels[c.levels.length - 1], splitLine: { show: false }, axisLine: { show: false },
      axisTick: { ...tickStyle, customValues: c.ticks }, axisLabel: { ...labelStyle, margin: 22, customValues: c.ticks, formatter: fmt(c.dec) },
      name: c.name, nameLocation: "middle", nameRotate: 90, nameGap: c.gap, nameTextStyle: { color: "#000", fontFamily: FONT, fontSize: 20.5 },
    });
    series.push({
      type: "custom", xAxisIndex: ci, yAxisIndex: ci, coordinateSystem: "cartesian2d", clip: true, animation: false, silent: true,
      data: barShapes.map((s) => [s.pts[0][0], s.pts[0][1]]), encode: { x: 0, y: 1 }, renderItem: renderShapes(barShapes, 0),
    });
  });

  const red = { fill: "#ff0000" };
  const graphic = {
    elements: [
      { type: "polygon", z: 50, silent: true, shape: { points: [[168.6,265.7],[184,258],[184,263.2],[310,263.2],[310,258],[325.7,265.7],[310,273.4],[310,268.2],[184,268.2],[184,273.4]] }, style: { fill: "#fff" } },
      { type: "arc", z: 50, silent: true, shape: { cx: 843, cy: 163, r: 58, startAngle: Math.PI - 0.25, endAngle: 0.59, clockwise: true }, style: { stroke: "#ff0000", lineWidth: 10, fill: "none" } },
      { type: "polygon", z: 50, silent: true, shape: { points: [[782.5,265],[792,265],[790,200],[781,200]] }, style: red },
      { type: "polygon", z: 50, silent: true, shape: { points: [[769,200],[803.7,200],[785.3,170]] }, style: red },
      { type: "polygon", z: 50, silent: true, shape: { points: [[860.8,220],[878.4,182.7],[901.6,209.3]] }, style: red },
      { type: "ellipse", z: 50, silent: true, x: 256, y: 430, rotation: -0.204, shape: { cx: 0, cy: 0, rx: 93, ry: 52 }, style: { stroke: "#fff", lineWidth: 5, fill: "none" } },
      { type: "rect", z: 51, silent: true, shape: { x: 180, y: 374, width: 108, height: 18.8 }, style: { fill: "#fff" } },
      { type: "text", z: 52, silent: true, x: 877, y: 417, style: { text: "westerly", fill: "#fff", fontFamily: "Lato", fontSize: 22, textAlign: "center", textVerticalAlign: "middle" } },
      { type: "text", z: 52, silent: true, x: 877, y: 447, style: { text: "jet", fill: "#fff", fontFamily: "Lato", fontSize: 22, textAlign: "center", textVerticalAlign: "middle" } },
      { type: "text", z: 52, silent: true, x: 1079, y: 21, scaleY: 1.25, style: { text: "1e10", fill: "#000", fontFamily: FONT, fontSize: 29, textVerticalAlign: "middle" } },
      { type: "text", z: 52, silent: true, x: 496, y: 369, scaleY: 1.25, style: { text: "1e9", fill: "#000", fontFamily: FONT, fontSize: 29, textVerticalAlign: "middle" } },
    ],
  };

  return { animation: false, backgroundColor: "#fff", grid, xAxis, yAxis, series, title, graphic };
}

export default function App() {
  const ref = useRef<HTMLDivElement>(null);
  useEffect(() => {
    const chart = echarts.init(ref.current!, undefined, { renderer: "svg" });
    chart.setOption(buildOption() as any);
    return () => chart.dispose();
  }, []);
  return <div ref={ref} style={{ position: "fixed", left: 0, top: 0, width: 1866, height: 721 }} />;
}
